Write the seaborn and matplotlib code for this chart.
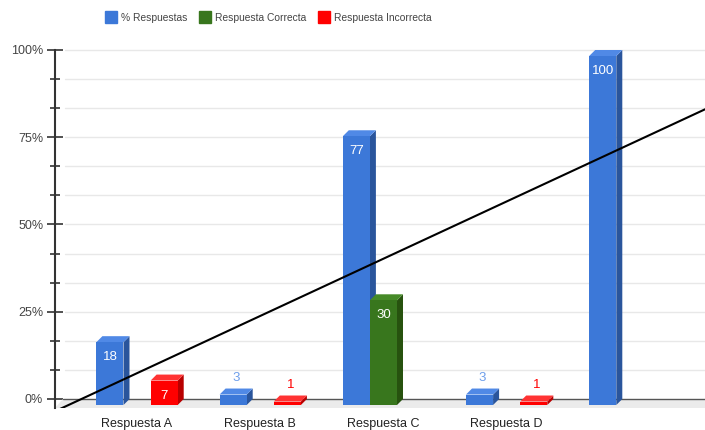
import numpy as np
import pandas as pd
import seaborn as sns
import matplotlib.pyplot as plt
from matplotlib.patches import Polygon
from matplotlib.lines import Line2D
from matplotlib.ticker import MultipleLocator, FuncFormatter

# datos
categorias = ["Respuesta A", "Respuesta B", "Respuesta C", "Respuesta D", " "]
series = ["% Respuestas", "Respuesta Correcta", "Respuesta Incorrecta"]
respuestas = [18, 3, 77, 3, 100]
correcta = [np.nan, np.nan, 30, np.nan, np.nan]
incorrecta = [7, 1, np.nan, 1, np.nan]

colores = ["#3c78d8", "#38761d", "#ff0000"]
lados = ["#2a559c", "#27520f", "#b80000"]
techos = ["#5089e6", "#468a28", "#ff3333"]
color_fuera = ["#6d9eeb", "#38761d", "#ff0000"]

df = pd.DataFrame({
    "categoria": categorias * 3,
    "serie": np.repeat(series, len(categorias)),
    "valor": respuestas + correcta + incorrecta,
})

sns.set_theme(style="white")
plt.rcParams["font.family"] = ["Liberation Sans", "DejaVu Sans"]

fig = plt.figure(figsize=(7.05, 4.30), dpi=100)
ax = fig.add_axes([55 / 705, 1 - 408 / 430, 650 / 705, (408 - 48.25) / 430])

sns.barplot(data=df, x="categoria", y="valor", hue="serie", order=categorias,
            hue_order=series, palette=colores, width=0.66, gap=0,
            errorbar=None, legend=False, saturation=1, ax=ax, zorder=3)

# escala en pixeles para el efecto 3D
PX, PY = 123.2, 3.49
xl, xr = -0.666, 4.61
yb, yt = -9 / PY, 100.5
ax.set_xlim(xl, xr)
ax.set_ylim(yb, yt)
dxb, dyb = 6 / PX, 6 / PY

for i, cont in enumerate(ax.containers):
    for bar in cont:
        v = bar.get_height()
        if v is None or np.isnan(v):
            continue
        x0, w = bar.get_x(), bar.get_width()
        bar.set_y(-dyb)
        bar.set_linewidth(0)
        ax.add_patch(Polygon([(x0 + w, -dyb), (x0 + w + dxb, 0), (x0 + w + dxb, v), (x0 + w, v - dyb)],
                             fc=lados[i], lw=0, zorder=2.5))
        ax.add_patch(Polygon([(x0, v - dyb), (x0 + w, v - dyb), (x0 + w + dxb, v), (x0 + dxb, v)],
                             fc=techos[i], lw=0, zorder=2.6))
        if v >= 5:
            ax.text(x0 + w / 2, v - dyb - 15 / PY, f"{v:.0f}", color="white",
                    ha="center", va="center", fontsize=9.5, zorder=5)
        else:
            ax.text(x0 + w / 2 + dxb / 2, v + 11 / PY, f"{v:.0f}", color=color_fuera[i],
                    ha="center", va="center", fontsize=9.5, zorder=5)

# suelo y lineas de fondo
ax.add_patch(Polygon([(xl, yb), (xr + 1, yb), (xr + 1, 0), (xl + 8 / PX, 0)],
                     fc="#ebebeb", lw=0, zorder=1))
for y in np.arange(25 / 3, 100.1, 25 / 3):
    ax.plot([xl + 10 / PX, xr], [y, y], color="#e8e8e8", lw=1, zorder=1)
ax.plot([xl + 8 / PX, xr], [0, 0], color="#555555", lw=1, zorder=2)

# linea de tendencia
sns.regplot(x=np.arange(len(respuestas)), y=respuestas, scatter=False, ci=None,
            truncate=False, color="black", line_kws=dict(lw=1.5, zorder=6), ax=ax)
ax.set_xlim(xl, xr)
ax.set_ylim(yb, yt)
ax.set_xlabel("")
ax.set_ylabel("")

ax.yaxis.set_major_locator(MultipleLocator(25))
ax.yaxis.set_minor_locator(MultipleLocator(25 / 3))
ax.yaxis.set_major_formatter(FuncFormatter(lambda y, _: f"{y:.0f}%"))
ax.tick_params(axis="y", which="major", direction="inout", length=11, width=1.2,
               color="#333333", labelsize=9, labelcolor="#444444", pad=3, left=True)
ax.tick_params(axis="y", which="minor", direction="inout", length=7, width=1.2,
               color="#333333", left=True)
ax.set_xticks(range(len(categorias)))
ax.set_xticklabels(categorias)
ax.tick_params(axis="x", length=0, pad=7, labelsize=9, labelcolor="#222222")

for s in ["top", "right", "bottom"]:
    ax.spines[s].set_visible(False)
ax.spines["left"].set_bounds(yb, 100)
ax.spines["left"].set_color("#333333")
ax.spines["left"].set_linewidth(1.5)

handles = [Line2D([], [], marker="s", ls="", markersize=8, color=c) for c in colores]
leg = fig.legend(handles, series, loc="center", bbox_to_anchor=(269 / 705, 1 - 18 / 430),
                 ncol=3, frameon=False, fontsize=7.4, handletextpad=0.5,
                 handlelength=1.0, columnspacing=1.2)
for t in leg.get_texts():
    t.set_color("#444444")

fig.savefig("out.png", dpi=100)
